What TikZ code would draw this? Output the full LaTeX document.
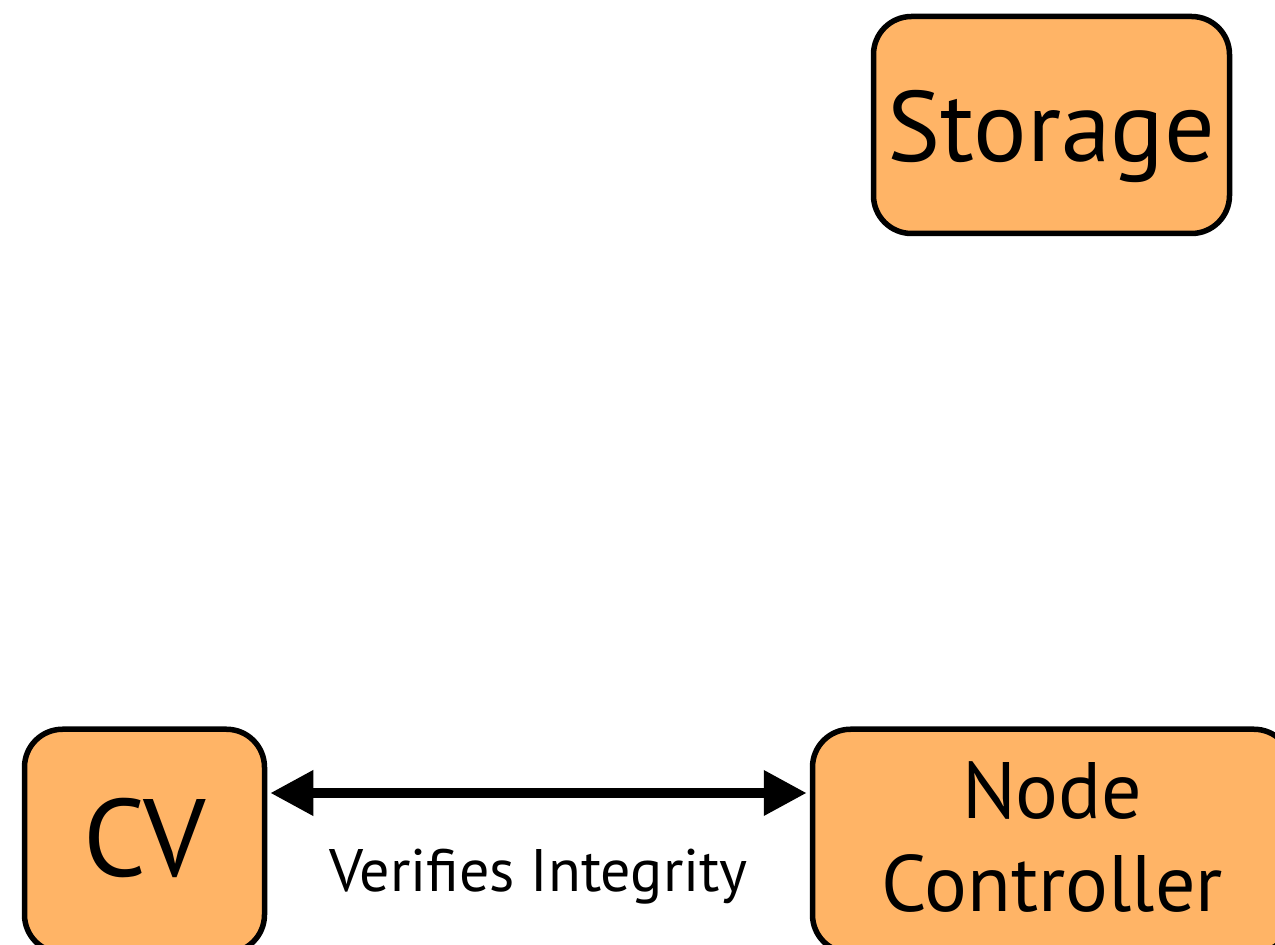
\documentclass[tikz,border=0pt]{standalone}
\usepackage{fontspec}
\setmainfont{PT Sans}
\usetikzlibrary{arrows.meta}
\definecolor{boxfill}{HTML}{FFB466}
\begin{document}
\begin{tikzpicture}[x=0.5pt,y=-0.5pt,
  box/.style={draw=black, fill=boxfill, line width=2.75pt, rounded corners=19pt,
    inner sep=0pt, text=black},
  link/.style={line width=5pt, {Triangle[length=21.5pt,width=21.5pt]}-{Triangle[length=21.5pt,width=21.5pt]},
    shorten <=1.5pt, shorten >=1.5pt}]
\useasboundingbox (0,0) rectangle (1275,945);
\clip (0,0) rectangle (1275,945);
\node[box, minimum width=178pt, minimum height=108.5pt, text height=37pt, text depth=0pt, font=\fontsize{50pt}{60pt}\selectfont] (storage) at (1051.5,125) {Storage};
\node[box, minimum width=120pt, minimum height=111.75pt, text height=36pt, text depth=0pt, font=\fontsize{55pt}{60pt}\selectfont] (cv) at (144.5,841) {CV};
\node[box, minimum width=239.75pt, minimum height=111.75pt, text height=71pt, text depth=0pt, font=\fontsize{40pt}{47pt}\selectfont] (nc) at (1052.25,841) {\begin{tabular}[b]{@{}c@{}}Node\\[-0.2pt]Controller\end{tabular}};
\draw[link] (cv.east |- 0,793) -- node[below=22pt, font=\fontsize{30pt}{36pt}\selectfont] (lbl) {Verifies Integrity} (nc.west |- 0,793);
\end{tikzpicture}
\end{document}
